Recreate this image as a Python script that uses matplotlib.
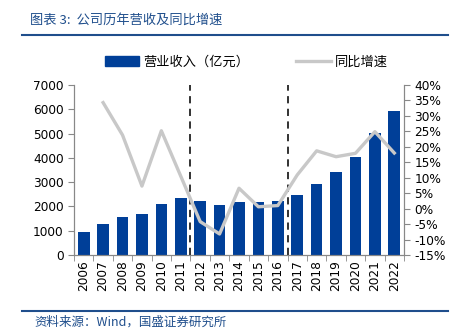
import numpy as np
import matplotlib.pyplot as plt
from matplotlib.lines import Line2D

plt.rcParams['font.family'] = ['DejaVu Sans', 'Noto Sans CJK SC']

years = [str(y) for y in range(2006, 2023)]
revenue = [960, 1276, 1578, 1688, 2100, 2347, 2237, 2059, 2196, 2190, 2210,
           2470, 2924, 3404, 4022, 5037, 5943]
growth = [np.nan, 34.3, 23.8, 7.3, 25.2, 10.5, -4.2, -8.2, 6.6, 0.6, 1.0,
          10.9, 18.7, 16.8, 17.9, 24.9, 18.0]

BLUE = '#003f98'
GRAY = '#c8c8c8'
CJK = ['Noto Sans CJK SC', 'DejaVu Sans']

fig = plt.figure(figsize=(4.6, 3.32), dpi=100)
ax = fig.add_axes([74/460, 1-255/332, 330/460, 170/332])
x = np.arange(len(years))

ax.bar(x, revenue, width=0.6, color=BLUE, zorder=2)
ax.set_xlim(-0.5, len(years) - 0.5)
ax.set_ylim(0, 7000)
ax.set_yticks(range(0, 7001, 1000))
ax.set_xticks(x)
ax.set_xticklabels(years, rotation=90)
ax.set_xticks(np.arange(-0.5, len(years), 1), minor=True)
ax.tick_params(axis='x', which='major', length=0, pad=4, labelsize=8.7)
ax.tick_params(axis='x', which='minor', length=4, color='#888888')
ax.tick_params(axis='y', length=4, color='#888888', labelsize=8.7)
ax.spines['top'].set_visible(False)
for s in ['left', 'bottom', 'right']:
    ax.spines[s].set_color('#888888')

for xv in [5.5, 10.5]:
    ax.axvline(xv, color='#222222', linestyle=(0, (4, 3)), linewidth=1.3, zorder=3)

ax2 = ax.twinx()
ax2.plot(x, growth, color=GRAY, linewidth=2.4, zorder=4)
ax2.set_ylim(-15, 40)
ax2.set_yticks(range(-15, 41, 5))
ax2.set_yticklabels([f'{v}%' for v in range(-15, 41, 5)])
ax2.tick_params(axis='y', length=4, color='#888888', labelsize=8.7)
ax2.spines['top'].set_visible(False)
for s in ['left', 'bottom', 'right']:
    ax2.spines[s].set_color('#888888')

# legend
handles = [plt.Rectangle((0, 0), 1, 1, color=BLUE),
           Line2D([0], [0], color=GRAY, linewidth=2.4)]
fig.legend(handles, ['营业收入（亿元）', '同比增速'], loc='center',
           bbox_to_anchor=(0.535, 1-62/332), ncol=2, frameon=False,
           prop={'family': CJK, 'size': 9.5}, handlelength=2.6,
           columnspacing=3.6, handletextpad=0.3)

# title and source
fig.text(30/460, 1-20/332, '图表 3:  公司历年营收及同比增速', family=CJK,
         fontsize=9.5, color='#1f4e8c', va='center', style='italic')
fig.add_artist(Line2D([22/460, 448/460], [1-35/332, 1-35/332], color='#1f4e8c', linewidth=1.5))
fig.add_artist(Line2D([22/460, 448/460], [1-311/332, 1-311/332], color='#1f4e8c', linewidth=1.5))
fig.text(34/460, 1-322/332, '资料来源：Wind，国盛证券研究所', family=CJK,
         fontsize=9, color='#1f4e8c', va='center', style='italic')

fig.savefig('out.png', dpi=100)
